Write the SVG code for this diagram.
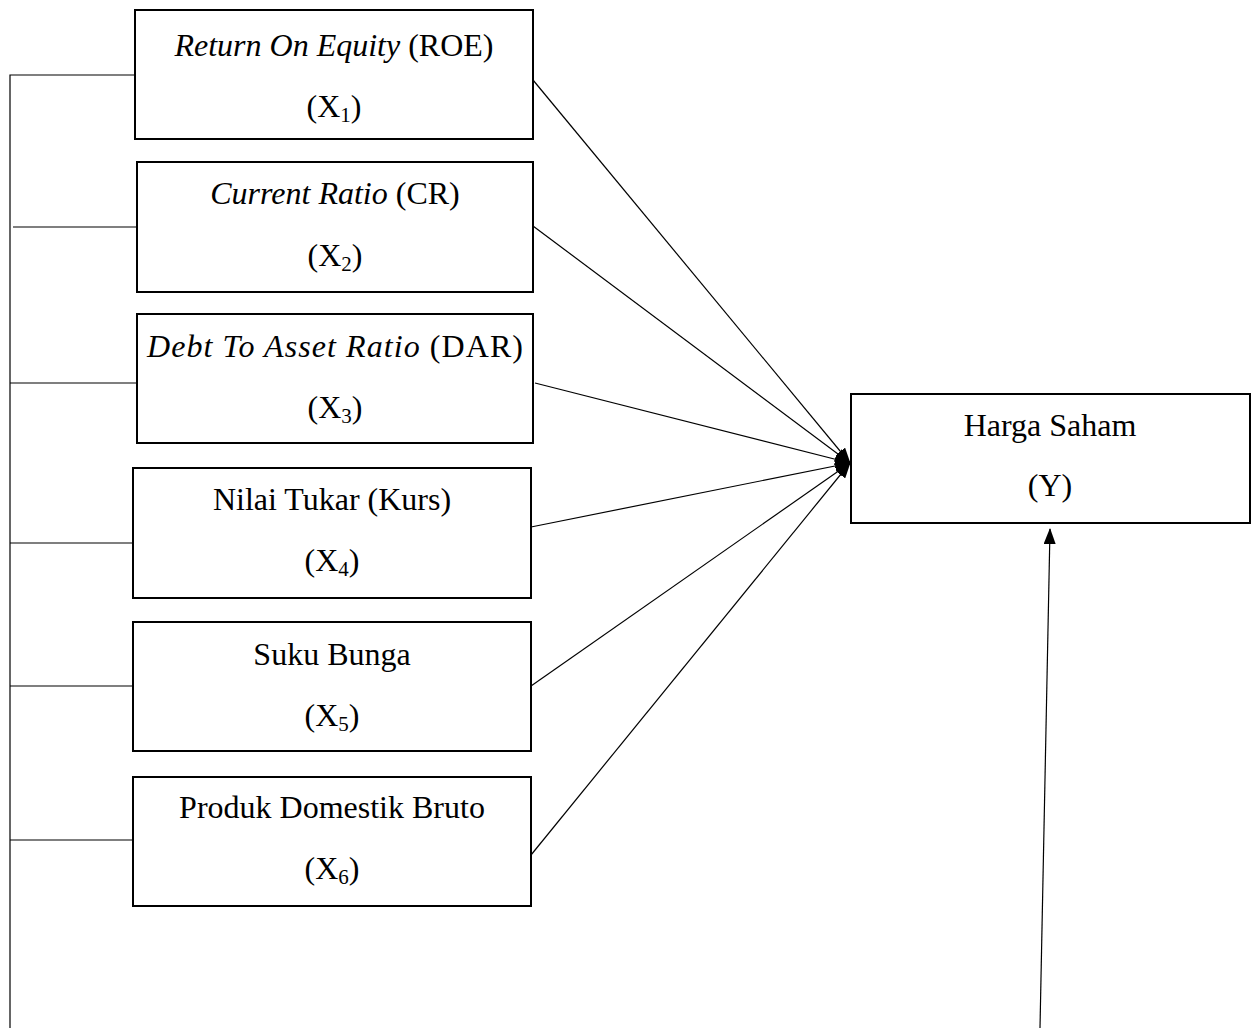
<svg xmlns="http://www.w3.org/2000/svg" width="1256" height="1028" viewBox="0 0 1256 1028">
<style>
.box{fill:#fff;stroke:#000;stroke-width:2}
.t{font-family:"Liberation Serif","Times New Roman",serif;font-size:32px;fill:#000;text-anchor:middle}
.sub{font-size:21px}
.c{stroke:#000;stroke-width:1.2;fill:none}
.a{stroke:#000;stroke-width:1.2;fill:none;marker-end:url(#ah)}
</style>
<defs>
<marker id="ah" markerUnits="userSpaceOnUse" markerWidth="16" markerHeight="12" viewBox="0 0 16 12" refX="15" refY="6" orient="auto">
<path d="M0,0 L16,6 L0,12 Z" fill="#000"/>
</marker>
</defs>
<g id="connectors">
<path class="c" d="M10,1028 V75 H135"/>
<path class="c" d="M13,227 H137"/>
<path class="c" d="M10,383 H137"/>
<path class="c" d="M10,543 H133"/>
<path class="c" d="M10,686 H133"/>
<path class="c" d="M10,840 H133"/>
<line class="a" x1="533" y1="80" x2="850" y2="463"/>
<line class="a" x1="533" y1="226" x2="850" y2="463"/>
<line class="a" x1="535" y1="383" x2="850" y2="463"/>
<line class="a" x1="531" y1="527" x2="850" y2="463"/>
<line class="a" x1="531" y1="686" x2="850" y2="463"/>
<line class="a" x1="531" y1="855" x2="850" y2="463"/>
<line class="a" x1="1040" y1="1028" x2="1050" y2="529"/>
</g>
<g id="x1">
<rect class="box" x="135" y="10" width="398" height="129"/>
<text class="t" x="334" y="56"><tspan font-style="italic">Return On Equity</tspan> (ROE)</text>
<text class="t" x="334" y="117">(X<tspan class="sub" dy="5">1</tspan><tspan dy="-5">)</tspan></text>
</g>
<g id="x2">
<rect class="box" x="137" y="162" width="396" height="130"/>
<text class="t" x="335" y="204"><tspan font-style="italic">Current Ratio</tspan> (CR)</text>
<text class="t" x="335" y="266">(X<tspan class="sub" dy="5">2</tspan><tspan dy="-5">)</tspan></text>
</g>
<g id="x3">
<rect class="box" x="137" y="314" width="396" height="129"/>
<text class="t" x="335" y="357" textLength="376" lengthAdjust="spacing"><tspan font-style="italic">Debt To Asset Ratio</tspan> (DAR)</text>
<text class="t" x="335" y="418">(X<tspan class="sub" dy="5">3</tspan><tspan dy="-5">)</tspan></text>
</g>
<g id="x4">
<rect class="box" x="133" y="468" width="398" height="130"/>
<text class="t" x="332" y="510">Nilai Tukar (Kurs)</text>
<text class="t" x="332" y="571">(X<tspan class="sub" dy="5">4</tspan><tspan dy="-5">)</tspan></text>
</g>
<g id="x5">
<rect class="box" x="133" y="622" width="398" height="129"/>
<text class="t" x="332" y="665">Suku Bunga</text>
<text class="t" x="332" y="726">(X<tspan class="sub" dy="5">5</tspan><tspan dy="-5">)</tspan></text>
</g>
<g id="x6">
<rect class="box" x="133" y="777" width="398" height="129"/>
<text class="t" x="332" y="818">Produk Domestik Bruto</text>
<text class="t" x="332" y="879">(X<tspan class="sub" dy="5">6</tspan><tspan dy="-5">)</tspan></text>
</g>
<g id="y">
<rect class="box" x="851" y="394" width="399" height="129"/>
<text class="t" x="1050" y="436">Harga Saham</text>
<text class="t" x="1050" y="496">(Y)</text>
</g>
</svg>
